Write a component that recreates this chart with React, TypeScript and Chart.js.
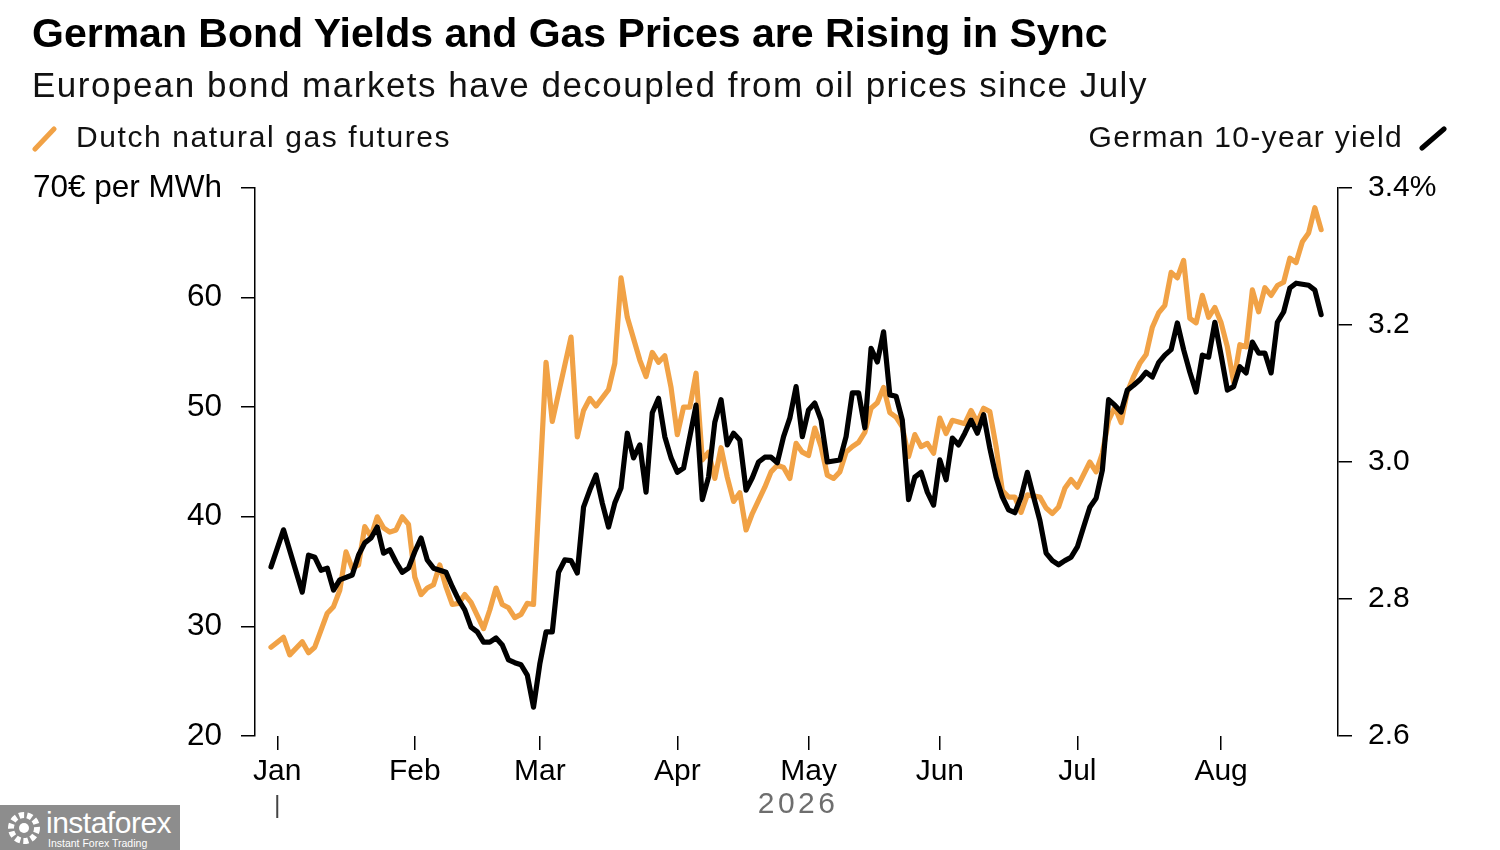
import React, { useEffect, useRef } from "react";
import { Chart, registerables } from "chart.js";

Chart.register(...registerables);

// ---- Data (business-day index from 31 Dec 2025) ----
const monthTickDays = [1, 23, 43, 65, 86, 107, 129, 152];
const monthLabels = ["Jan", "Feb", "Mar", "Apr", "May", "Jun", "Jul", "Aug"];
const yearLabel = "2026";

const gasTicks = [20, 30, 40, 50, 60, 70];
const yieldTicks = [2.6, 2.8, 3.0, 3.2, 3.4];

const gasDay = [
  0, 2, 3, 5, 6, 7, 9, 10, 11, 12, 13, 14, 15, 16, 17, 18, 19, 20, 21, 22, 23, 24, 25, 26, 27, 28, 29, 30,
  31, 32, 34, 35, 36, 37, 38, 39, 40, 41, 42, 44, 45, 48, 49, 50, 51, 52, 54, 55, 56, 57, 59, 60, 61, 62,
  63, 64, 65, 66, 67, 68, 69, 70, 71, 72, 73, 74, 75, 76, 77, 79, 80, 81, 82, 83, 84, 85, 86, 87, 88, 89,
  90, 91, 92, 93, 94, 95, 96, 97, 98, 99, 100, 101, 102, 103, 104, 105, 106, 107, 108, 109, 111, 112, 113,
  114, 115, 116, 117, 118, 119, 120, 121, 123, 124, 125, 126, 127, 128, 129, 131, 132, 133, 134, 135, 136,
  137, 138, 139, 140, 141, 142, 143, 144, 145, 146, 147, 148, 149, 150, 151, 152, 153, 154, 155, 156, 157,
  158, 159, 160, 161, 162, 163, 164, 165, 166, 167, 168,
];
const gasPrice = [
  28.1, 29.0, 27.4, 28.6, 27.6, 28.1, 31.2, 31.8, 33.3, 36.8, 35.3, 35.6, 39.1, 38.2, 40.0, 39.0, 38.6, 38.8,
  40.0, 39.3, 34.5, 32.9, 33.5, 33.8, 35.6, 33.6, 32.0, 32.1, 32.9, 32.2, 29.8, 31.5, 33.5, 32.0, 31.7, 30.8,
  31.1, 32.1, 32.0, 54.1, 48.7, 56.4, 47.3, 49.7, 50.8, 50.1, 51.6, 54.0, 61.8, 58.2, 54.3, 52.8, 55.0, 54.1,
  54.7, 51.8, 47.5, 50.0, 50.0, 53.1, 45.2, 45.9, 43.5, 46.3, 43.6, 41.4, 42.2, 38.8, 40.3, 42.7, 44.1, 44.7,
  44.5, 43.5, 46.7, 45.9, 45.6, 48.1, 46.4, 43.8, 43.5, 44.1, 45.9, 46.4, 46.8, 47.7, 49.9, 50.4, 51.8, 49.5,
  49.1, 48.2, 45.5, 47.5, 46.4, 46.7, 45.8, 49.0, 47.6, 48.8, 48.5, 49.7, 48.6, 49.9, 49.6, 46.4, 42.4, 41.8,
  41.8, 40.4, 42.0, 41.8, 40.8, 40.3, 40.9, 42.6, 43.4, 42.7, 45.0, 44.1, 45.8, 48.8, 50.0, 48.6, 51.4, 52.8,
  54.0, 54.8, 57.3, 58.6, 59.3, 62.3, 61.8, 63.4, 58.1, 57.7, 60.2, 58.2, 59.1, 57.7, 55.5, 52.3, 55.7, 55.5,
  60.7, 58.7, 60.9, 60.2, 61.1, 61.4, 63.6, 63.2, 65.1, 65.9, 68.2, 66.2,
];

const yieldDay = [
  0, 2, 5, 6, 7, 8, 9, 10, 11, 13, 14, 15, 16, 17, 18, 19, 20, 21, 22, 23, 24, 25, 26, 28, 29, 30, 31, 32,
  33, 34, 35, 36, 37, 38, 39, 40, 41, 42, 43, 44, 45, 46, 47, 48, 49, 50, 51, 52, 53, 54, 55, 56, 57, 58,
  59, 60, 61, 62, 63, 64, 65, 66, 68, 69, 70, 71, 72, 73, 74, 75, 76, 77, 78, 79, 80, 81, 82, 83, 84, 85,
  86, 87, 88, 89, 91, 92, 93, 94, 95, 96, 97, 98, 99, 100, 101, 102, 103, 104, 105, 106, 107, 108, 109, 110,
  111, 112, 113, 114, 115, 116, 117, 118, 119, 120, 121, 122, 123, 124, 125, 126, 127, 128, 129, 130, 131,
  132, 133, 134, 135, 136, 137, 138, 139, 140, 141, 142, 143, 144, 145, 146, 147, 148, 149, 150, 151, 152,
  153, 154, 155, 156, 157, 158, 159, 160, 161, 162, 163, 164, 166, 167, 168,
];
const yieldPct = [
  2.847, 2.901, 2.81, 2.864, 2.861, 2.842, 2.845, 2.813, 2.828, 2.835, 2.864, 2.882, 2.889, 2.905, 2.867,
  2.872, 2.854, 2.839, 2.845, 2.869, 2.889, 2.857, 2.845, 2.839, 2.818, 2.799, 2.784, 2.759, 2.752, 2.737,
  2.737, 2.743, 2.733, 2.711, 2.707, 2.704, 2.689, 2.642, 2.705, 2.752, 2.752, 2.839, 2.857, 2.856, 2.838,
  2.934, 2.959, 2.981, 2.94, 2.905, 2.94, 2.962, 3.042, 3.006, 3.025, 2.956, 3.072, 3.093, 3.037, 3.006,
  2.985, 2.991, 3.083, 2.945, 2.978, 3.058, 3.091, 3.025, 3.042, 3.032, 2.959, 2.977, 3.0, 3.007, 3.007,
  2.999, 3.037, 3.064, 3.11, 3.037, 3.076, 3.086, 3.061, 3.0, 3.003, 3.037, 3.101, 3.101, 3.05, 3.166,
  3.146, 3.19, 3.098, 3.096, 3.061, 2.945, 2.978, 2.985, 2.956, 2.937, 3.003, 2.974, 3.035, 3.025, 3.042,
  3.061, 3.042, 3.069, 3.02, 2.978, 2.949, 2.93, 2.926, 2.949, 2.985, 2.949, 2.915, 2.867, 2.856, 2.85,
  2.856, 2.861, 2.876, 2.905, 2.934, 2.947, 2.988, 3.091, 3.083, 3.073, 3.105, 3.112, 3.12, 3.131, 3.124,
  3.145, 3.156, 3.164, 3.203, 3.164, 3.131, 3.102, 3.156, 3.153, 3.204, 3.156, 3.105, 3.11, 3.139, 3.13,
  3.175, 3.159, 3.159, 3.13, 3.204, 3.219, 3.254, 3.261, 3.258, 3.251, 3.215,
];

const ORANGE = "#F1A246";
const FONT = '"Liberation Sans", Arial, Helvetica, sans-serif';

const yearPlugin = {
  id: "yearLabel",
  afterDraw(chart: any) {
    const x = chart.scales.x;
    const ctx = chart.ctx;
    const bottom = chart.chartArea.bottom;
    const janPx = x.getPixelForValue(monthTickDays[0]);
    const mid = (x.getPixelForValue(gasDay[0]) + x.getPixelForValue(gasDay[gasDay.length - 1])) / 2;
    ctx.save();
    ctx.strokeStyle = "#444";
    ctx.lineWidth = 2;
    ctx.beginPath();
    ctx.moveTo(janPx, bottom + 59);
    ctx.lineTo(janPx, bottom + 82);
    ctx.stroke();
    ctx.fillStyle = "#6e6e6e";
    ctx.font = `30px ${FONT}`;
    ctx.textAlign = "center";
    ctx.textBaseline = "middle";
    (ctx as any).letterSpacing = "3.5px";
    ctx.fillText(yearLabel, mid + 2, bottom + 69);
    ctx.restore();
  },
};

export default function App() {
  const canvasRef = useRef<HTMLCanvasElement | null>(null);

  useEffect(() => {
    document.body.style.margin = "0";
    const canvas = canvasRef.current;
    if (!canvas) return;
    const tickFont = { family: FONT, size: 30 };
    const leftFont = { family: FONT, size: 31.5 };
    const chart = new Chart(canvas, {
      type: "line",
      data: {
        datasets: [
          {
            label: "German 10-year yield",
            data: yieldDay.map((d, i) => ({ x: d, y: yieldPct[i] })),
            yAxisID: "y1",
            borderColor: "#000000",
            borderWidth: 5.2,
            pointRadius: 0,
            tension: 0,
            borderJoinStyle: "round",
            borderCapStyle: "round",
          },
          {
            label: "Dutch natural gas futures",
            data: gasDay.map((d, i) => ({ x: d, y: gasPrice[i] })),
            yAxisID: "y",
            borderColor: ORANGE,
            borderWidth: 5.2,
            pointRadius: 0,
            tension: 0,
            borderJoinStyle: "round",
            borderCapStyle: "round",
          },
        ],
      },
      options: {
        responsive: false,
        animation: false,
        layout: { padding: { top: 188, left: 0, right: 0, bottom: 0 } },
        plugins: {
          legend: { display: false },
          tooltip: { enabled: false },
        },
        scales: {
          x: {
            type: "linear",
            min: -2.56,
            max: 170.7,
            afterBuildTicks: (s: any) => {
              s.ticks = monthTickDays.map((v) => ({ value: v }));
            },
            afterFit: (s: any) => {
              s.height = 114;
            },
            ticks: {
              autoSkip: false,
              maxRotation: 0,
              color: "#000",
              font: tickFont,
              padding: 4,
              callback: (v: any) => {
                const k = monthTickDays.indexOf(Number(v));
                return k >= 0 ? monthLabels[k] : "";
              },
            },
            grid: { drawOnChartArea: false, drawTicks: true, tickLength: 14, color: "#000", lineWidth: 1.5 },
            border: { display: false },
          },
          y: {
            position: "left",
            min: 20,
            max: 70,
            afterBuildTicks: (s: any) => {
              s.ticks = gasTicks.map((v) => ({ value: v }));
            },
            afterFit: (s: any) => {
              s.width = 255;
            },
            ticks: {
              color: "#000",
              font: leftFont,
              padding: 19,
              callback: (v: any) => (Number(v) === 70 ? "70€ per MWh" : String(v)),
            },
            grid: { drawOnChartArea: false, drawTicks: true, tickLength: 14, color: "#000", lineWidth: 1.5 },
            border: { display: true, color: "#000", width: 1.5 },
          },
          y1: {
            position: "right",
            min: 2.6,
            max: 3.4,
            afterBuildTicks: (s: any) => {
              s.ticks = yieldTicks.map((v) => ({ value: v }));
            },
            afterFit: (s: any) => {
              s.width = 162;
            },
            ticks: {
              color: "#000",
              font: tickFont,
              padding: 16,
              callback: (v: any) => (Number(v) === 3.4 ? "3.4%" : Number(v).toFixed(1)),
            },
            grid: { drawOnChartArea: false, drawTicks: true, tickLength: 14, color: "#000", lineWidth: 1.5 },
            border: { display: true, color: "#000", width: 1.5 },
          },
        },
      },
      plugins: [yearPlugin],
    } as any);
    return () => chart.destroy();
  }, []);

  const abs: React.CSSProperties = { position: "absolute", margin: 0, lineHeight: 1, fontFamily: FONT, whiteSpace: "nowrap" };

  return (
    <div style={{ position: "relative", width: 1500, height: 850, background: "#fff", overflow: "hidden" }}>
      <canvas ref={canvasRef} width={1500} height={850} style={{ position: "absolute", left: 0, top: 0, width: 1500, height: 850 }} />
      <div style={{ ...abs, left: 32, top: 13, fontSize: 41, fontWeight: 700, color: "#000" }}>
        German Bond Yields and Gas Prices are Rising in Sync
      </div>
      <div style={{ ...abs, left: 32, top: 67, fontSize: 35, letterSpacing: "1.5px", color: "#111" }}>
        European bond markets have decoupled from oil prices since July
      </div>
      <svg style={{ position: "absolute", left: 32, top: 126 }} width={26} height={26}>
        <line x1={3} y1={23} x2={22} y2={3} stroke={ORANGE} strokeWidth={5} strokeLinecap="round" />
      </svg>
      <div style={{ ...abs, left: 76, top: 122, fontSize: 30, letterSpacing: "1.6px", color: "#111" }}>
        Dutch natural gas futures
      </div>
      <div style={{ ...abs, right: 97, top: 122, fontSize: 30, letterSpacing: "1.3px", color: "#111" }}>
        German 10-year yield
      </div>
      <svg style={{ position: "absolute", left: 1419, top: 126 }} width={28} height={26}>
        <line x1={3} y1={22} x2={25} y2={3} stroke="#000" strokeWidth={5} strokeLinecap="round" />
      </svg>
      <div style={{ position: "absolute", left: 0, top: 805, width: 180, height: 45, background: "#8d8d8d", fontFamily: FONT, color: "#fff" }}>
        <svg style={{ position: "absolute", left: 6, top: 5 }} width={36} height={36}>
          <circle cx={18} cy={18} r={13} fill="none" stroke="#fff" strokeWidth={6} strokeDasharray="5 3" />
          <circle cx={18} cy={18} r={5} fill="#fff" />
        </svg>
        <div style={{ position: "absolute", left: 46, top: 3, fontSize: 30, lineHeight: 1, letterSpacing: "-0.5px" }}>instaforex</div>
        <div style={{ position: "absolute", left: 48, top: 33, fontSize: 10.5, lineHeight: 1 }}>Instant Forex Trading</div>
      </div>
    </div>
  );
}
